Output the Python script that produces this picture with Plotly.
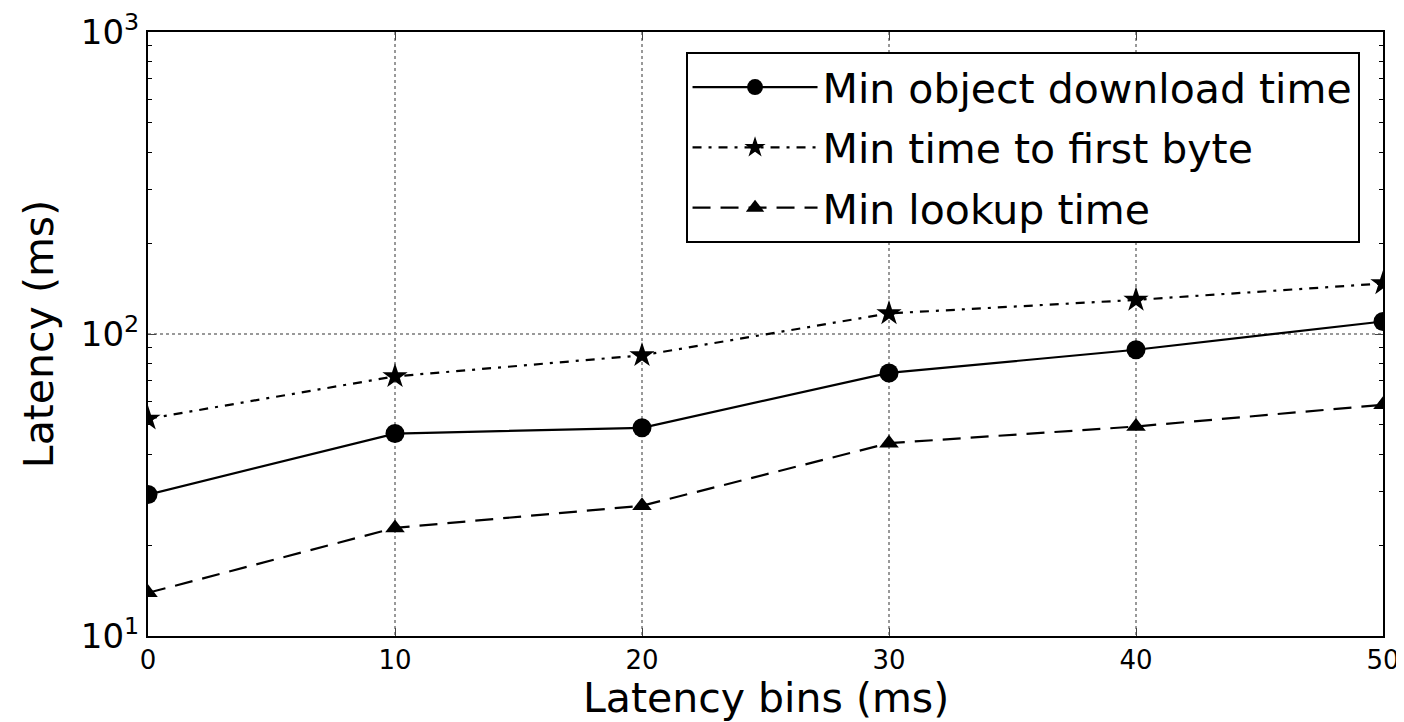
import plotly.graph_objects as go

bins = [0, 10, 20, 30, 40, 50]
download = [29.4, 46.8, 48.9, 74.3, 88.7, 110]
first_byte = [52.4, 72.4, 85, 117, 129.7, 147]
lookup = [13.9, 22.8, 27.0, 43.5, 49.4, 58.3]

names = ["Min object download time", "Min time to first byte", "Min lookup time"]
x_ticks = [0, 10, 20, 30, 40, 50]
y_ticks = [10, 100, 1000]
y_ticktext = ["10<sup>1</sup>", "10<sup>2</sup>", "10<sup>3</sup>"]
y_minor = [20, 30, 40, 50, 60, 70, 80, 90, 200, 300, 400, 500, 600, 700, 800, 900]
x_title = "Latency bins (ms)"
y_title = "Latency (ms)"

font = "DejaVu Sans"
fig = go.Figure()
fig.add_trace(go.Scatter(x=bins, y=download, name=names[0], mode="lines+markers", legendgroup="a",
                         line=dict(color="black", width=2.2, dash="solid"),
                         marker=dict(symbol="circle", size=19, color="black")))
fig.add_trace(go.Scatter(x=bins, y=first_byte, name=names[1], mode="lines+markers", legendgroup="b",
                         line=dict(color="black", width=2.2, dash="9px,7px,3px,7px"),
                         marker=dict(symbol="star", size=19, color="black")))
fig.add_trace(go.Scatter(x=bins, y=lookup, name=names[2], mode="lines+markers", legendgroup="c",
                         line=dict(color="black", width=2.2, dash="18px,10px"),
                         marker=dict(symbol="triangle-up", size=17, color="black")))

fig.update_layout(
    width=1388, height=714,
    margin=dict(l=140, r=13, t=24, b=86),
    paper_bgcolor="white", plot_bgcolor="white",
    font=dict(family=font, color="black"),
    showlegend=True,
    legend=dict(x=0.981, y=0.967, xanchor="right", yanchor="top",
                bordercolor="black", borderwidth=2, bgcolor="white",
                font=dict(size=41, family=font), itemwidth=125,
                tracegroupgap=4),
)
fig.add_annotation(text=x_title, xref="paper", yref="paper", x=0.5, y=-0.102,
                   xanchor="center", yanchor="middle", showarrow=False,
                   font=dict(size=41, family=font, color="black"))
fig.update_xaxes(range=[0, 50], tickvals=x_ticks, ticks="inside", ticklen=8,
                 tickfont=dict(size=26), showline=True, linecolor="black", linewidth=2,
                 mirror="ticks", showgrid=True, gridcolor="#999999", griddash="dot", gridwidth=1.5,
                 zeroline=False, automargin=False, ticklabeloverflow="allow")
fig.update_yaxes(type="log", range=[1, 3], tickvals=y_ticks, ticktext=y_ticktext,
                 ticks="inside", ticklen=8, tickfont=dict(size=34),
                 showline=True, linecolor="black", linewidth=2, mirror="ticks",
                 showgrid=True, gridcolor="#999999", griddash="dot", gridwidth=1.5,
                 zeroline=False, automargin=False, ticklabeloverflow="allow",
                 minor=dict(tickvals=y_minor, ticks="inside", ticklen=4, tickcolor="black", showgrid=False),
                 title=dict(text=y_title, font=dict(size=41), standoff=14))
fig.write_html("out.html")
